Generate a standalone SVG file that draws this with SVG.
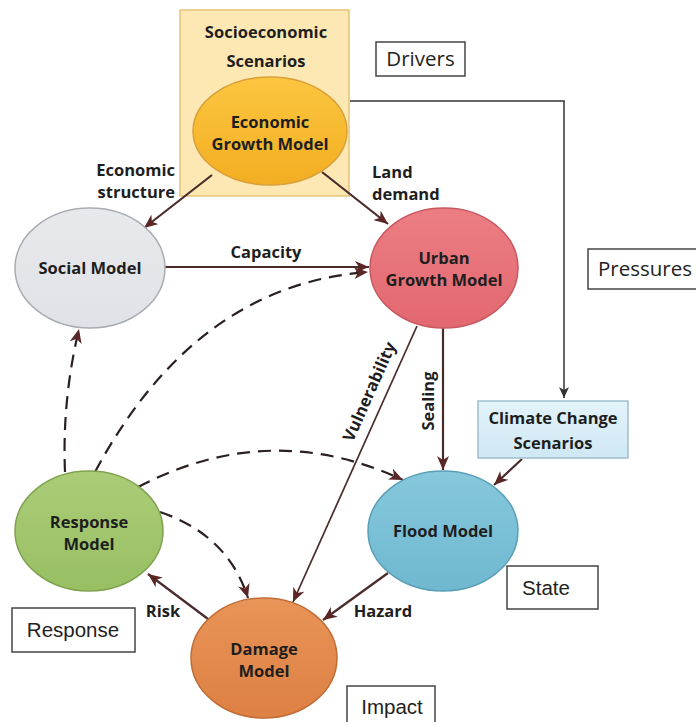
<svg xmlns="http://www.w3.org/2000/svg" width="696" height="722" viewBox="0 0 696 722">
<style>
.lbl{font-family:"Open Sans","Liberation Sans",sans-serif;font-weight:bold;font-size:16.5px;fill:#1e1e1e;}
.nd{font-family:"Open Sans","Liberation Sans",sans-serif;font-weight:bold;font-size:16.5px;fill:#1e1e1e;text-anchor:middle;}
.dps{font-family:"Open Sans","Liberation Sans",sans-serif;font-size:20.5px;fill:#222;}
.dpa{font-family:"Liberation Sans",Arial,sans-serif;font-size:20.5px;fill:#222;}
.box{fill:#fff;stroke:#444;stroke-width:1.5;}
.ln{fill:none;stroke:#4a2a2a;stroke-width:2.2;marker-end:url(#ah);}
.dl{fill:none;stroke:#2a2020;stroke-width:2.2;stroke-dasharray:13 8;marker-end:url(#ah);}
</style>
<defs>
<marker id="ah" markerUnits="userSpaceOnUse" markerWidth="16" markerHeight="12" refX="14" refY="6" orient="auto">
<path d="M0,0 L14,6 L0,12 L4,6 z" fill="#5a2626"/>
</marker>
<marker id="ah2" markerUnits="userSpaceOnUse" markerWidth="12" markerHeight="10" refX="11" refY="5" orient="auto">
<path d="M0,0 L11,5 L0,10 L3,5 z" fill="#333"/>
</marker>
<linearGradient id="gEGM" x1="0" y1="0" x2="0" y2="1"><stop offset="0" stop-color="#fbc640"/><stop offset="1" stop-color="#f3ae22"/></linearGradient>
<linearGradient id="gSoc" x1="0" y1="0" x2="0" y2="1"><stop offset="0" stop-color="#e8e9ec"/><stop offset="1" stop-color="#dfe2e7"/></linearGradient>
<linearGradient id="gUGM" x1="0" y1="0" x2="0" y2="1"><stop offset="0" stop-color="#ec7e83"/><stop offset="1" stop-color="#e26870"/></linearGradient>
<linearGradient id="gRes" x1="0" y1="0" x2="0" y2="1"><stop offset="0" stop-color="#abcc78"/><stop offset="1" stop-color="#98bf62"/></linearGradient>
<linearGradient id="gFlo" x1="0" y1="0" x2="0" y2="1"><stop offset="0" stop-color="#86c8dc"/><stop offset="1" stop-color="#6fb8d0"/></linearGradient>
<linearGradient id="gDam" x1="0" y1="0" x2="0" y2="1"><stop offset="0" stop-color="#e99458"/><stop offset="1" stop-color="#dd8043"/></linearGradient>
<linearGradient id="gCli" x1="0" y1="0" x2="0" y2="1"><stop offset="0" stop-color="#e3f3fa"/><stop offset="1" stop-color="#cfe8f3"/></linearGradient>
</defs>
<rect width="696" height="722" fill="#fff"/>

<g id="socio">
<rect x="180" y="10" width="169" height="186" fill="#fde8b4" stroke="#e6c47a" stroke-width="1.5"/>
<text class="nd" x="266" y="38">Socioeconomic</text>
<text class="nd" x="266" y="67">Scenarios</text>
</g>

<g id="connectors">
<path class="ln" d="M212,175 L144,228"/>
<path class="ln" d="M322,172 L388,224"/>
<path class="ln" d="M165,267 L369,267"/>
<path class="dl" d="M95,472 Q195,285 368,272"/>
<path class="dl" d="M65,472 Q62,400 79,329"/>
<path class="dl" d="M138,487 Q270,418 403,480"/>
<path class="dl" d="M160,512 Q228,535 248,598"/>
<path class="ln" style="stroke-width:1.7" d="M417,326 L293,602"/>
<path class="ln" d="M443,328 L443,470"/>
<path class="ln" d="M522,459 L494,485"/>
<path class="ln" d="M388,573 L323,620"/>
<path class="ln" d="M212,622 L148,574"/>
<path d="M350,101 L564,101 L564,398" fill="none" stroke="#333" stroke-width="1.5" marker-end="url(#ah2)"/>
</g>

<g id="egm">
<ellipse cx="270" cy="131" rx="77" ry="54" fill="url(#gEGM)" stroke="#d9a03a" stroke-width="1.5"/>
<text class="nd" x="270" y="128">Economic</text>
<text class="nd" x="270" y="150">Growth Model</text>
</g>
<g id="social">
<ellipse cx="90" cy="268" rx="75" ry="60" fill="url(#gSoc)" stroke="#a9acb2" stroke-width="1.5"/>
<text class="nd" x="90" y="274">Social Model</text>
</g>
<g id="ugm">
<ellipse cx="444" cy="268" rx="74" ry="60" fill="url(#gUGM)" stroke="#c8585f" stroke-width="1.5"/>
<text class="nd" x="444" y="264">Urban</text>
<text class="nd" x="444" y="286">Growth Model</text>
</g>
<g id="response">
<ellipse cx="89" cy="531" rx="74" ry="60" fill="url(#gRes)" stroke="#7fa24f" stroke-width="1.5"/>
<text class="nd" x="89" y="528">Response</text>
<text class="nd" x="89" y="550">Model</text>
</g>
<g id="flood">
<ellipse cx="443" cy="531" rx="75" ry="60" fill="url(#gFlo)" stroke="#5a9fb6" stroke-width="1.5"/>
<text class="nd" x="443" y="537">Flood Model</text>
</g>
<g id="damage">
<ellipse cx="264" cy="658" rx="73" ry="60" fill="url(#gDam)" stroke="#c06c34" stroke-width="1.5"/>
<text class="nd" x="264" y="655">Damage</text>
<text class="nd" x="264" y="677">Model</text>
</g>
<g id="climate">
<rect x="478" y="401" width="150" height="57" fill="url(#gCli)" stroke="#9fbfcd" stroke-width="1.5"/>
<text class="nd" x="553" y="424">Climate Change</text>
<text class="nd" x="553" y="449">Scenarios</text>
</g>

<g id="dpsir">
<rect class="box" x="376" y="42" width="89" height="34"/>
<text class="dps" x="420.5" y="66" text-anchor="middle">Drivers</text>
<rect class="box" x="588" y="249" width="112" height="40"/>
<text class="dps" x="598" y="276">Pressures</text>
<rect class="box" x="507" y="566" width="91" height="43"/>
<text class="dpa" x="546" y="595" text-anchor="middle">State</text>
<rect class="box" x="12" y="608" width="123" height="44"/>
<text class="dpa" x="73" y="637" text-anchor="middle">Response</text>
<rect class="box" x="347" y="686" width="88" height="40"/>
<text class="dpa" x="392" y="714" text-anchor="middle">Impact</text>
</g>

<g id="labels">
<text class="lbl" x="175" y="176" text-anchor="end">Economic</text>
<text class="lbl" x="175" y="198" text-anchor="end">structure</text>
<text class="lbl" x="372" y="178">Land</text>
<text class="lbl" x="372" y="200">demand</text>
<text class="lbl" x="266" y="258" text-anchor="middle">Capacity</text>
<text class="lbl" text-anchor="middle" transform="translate(370,392) rotate(-66)" y="5">Vulnerability</text>
<text class="lbl" text-anchor="middle" transform="translate(429,401) rotate(-90)" y="5">Sealing</text>
<text class="lbl" x="163" y="617" text-anchor="middle">Risk</text>
<text class="lbl" x="383" y="617" text-anchor="middle">Hazard</text>
</g>
</svg>
